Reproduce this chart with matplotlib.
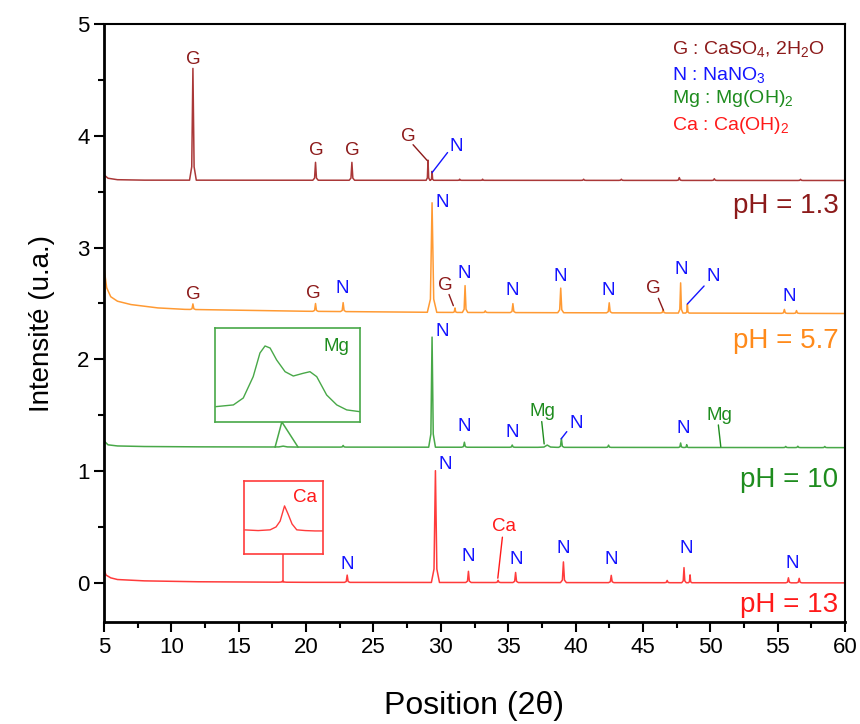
import numpy as np
import matplotlib.pyplot as plt
from matplotlib.ticker import MultipleLocator

plt.rcParams['font.family'] = ['Liberation Sans', 'DejaVu Sans']
plt.rcParams['mathtext.default'] = 'regular'

# colours
c_g = "#8C1A1A"      # gypse labels / pH 1.3 text
c_n = "#1414FF"      # NaNO3 labels
c_mg = "#1E8C1E"     # Mg(OH)2 labels / pH 10 text
c_ca = "#FF1A1A"     # Ca(OH)2 labels / pH 13 text
line_1 = "#AA3838"
line_5 = "#FF9A33"
line_10 = "#48A848"
line_13 = "#FF3B3B"
text_5 = "#FF8A1A"

# ---- pH = 1.3 : baseline knots + peaks (position, height above baseline, half width)
base1_x = [5, 5.3, 6, 8, 60]
base1_y = [3.65, 3.62, 3.607, 3.603, 3.60]
pos1 = [11.6, 20.7, 23.4, 29.05, 29.35, 31.4, 33.1, 40.6, 43.4, 47.7, 50.3, 56.7]
h1 = [1.0, 0.16, 0.16, 0.18, 0.08, 0.01, 0.01, 0.01, 0.01, 0.025, 0.015, 0.01]
w1 = [0.25, 0.2, 0.2, 0.14, 0.12, 0.15, 0.15, 0.2, 0.2, 0.2, 0.2, 0.2]

# ---- pH = 5.7
base5_x = [5, 5.2, 5.5, 6, 7, 9, 11, 20, 30, 60]
base5_y = [2.82, 2.64, 2.56, 2.52, 2.49, 2.46, 2.447, 2.43, 2.42, 2.41]
pos5 = [11.6, 20.7, 22.75, 29.35, 31.05, 31.8, 33.3, 35.35, 38.9, 42.5, 46.5,
        47.8, 48.3, 55.5, 56.4]
h5 = [0.05, 0.07, 0.08, 0.98, 0.04, 0.24, 0.015, 0.08, 0.22, 0.09, 0.03,
      0.27, 0.08, 0.035, 0.025]
w5 = [0.2, 0.2, 0.2, 0.35, 0.15, 0.2, 0.2, 0.2, 0.22, 0.2, 0.2,
      0.17, 0.13, 0.2, 0.2]

# ---- pH = 10
base10_x = [5, 5.3, 6, 8, 12, 20, 60]
base10_y = [1.27, 1.235, 1.225, 1.22, 1.217, 1.215, 1.21]
pos10 = [18.3, 22.75, 29.35, 31.75, 35.3, 37.9, 38.95, 42.45, 47.8, 48.25,
         55.6, 56.5, 58.5]
h10 = [0.008, 0.015, 0.985, 0.045, 0.02, 0.02, 0.08, 0.02, 0.04, 0.025,
       0.01, 0.012, 0.01]
w10 = [0.9, 0.2, 0.25, 0.2, 0.2, 0.7, 0.2, 0.2, 0.17, 0.13, 0.2, 0.2, 0.2]

# ---- pH = 13
base13_x = [5, 5.15, 5.5, 6, 8, 12, 20, 60]
base13_y = [0.12, 0.07, 0.045, 0.03, 0.018, 0.01, 0.005, 0.0]
pos13 = [18.27, 23.05, 29.6, 32.05, 34.25, 35.55, 39.1, 42.65, 46.8, 48.05,
         48.5, 55.8, 56.6]
h13 = [0.012, 0.065, 1.0, 0.1, 0.02, 0.09, 0.185, 0.065, 0.02, 0.135,
       0.07, 0.045, 0.04]
w13 = [0.3, 0.2, 0.3, 0.2, 0.2, 0.2, 0.22, 0.2, 0.2, 0.17, 0.13, 0.2, 0.2]

# ---- insets (zoom on the small Mg(OH)2 and Ca(OH)2 reflections)
mg_x = [15.54, 16.26, 16.67, 17.08, 17.36, 17.57, 17.78, 18.05, 18.40, 18.74,
        19.15, 19.43, 19.71, 20.12, 20.54, 20.95, 21.47]
mg_y = [0.163, 0.181, 0.255, 0.482, 0.734, 0.809, 0.787, 0.660, 0.535, 0.489,
        0.518, 0.535, 0.482, 0.287, 0.181, 0.128, 0.110]
ca_x = [17.02, 17.44, 17.82, 18.01, 18.14, 18.28, 18.39, 18.52, 18.67, 18.94,
        19.25, 19.5]
ca_y = [0.329, 0.32, 0.33, 0.37, 0.45, 0.658, 0.55, 0.41, 0.33, 0.32,
        0.315, 0.315]


def trace(bx, by, pos, h, w):
    xs, ys = list(bx), list(by)
    for p, hh, ww in zip(pos, h, w):
        b = np.interp(p, bx, by)
        xs += [p - ww, p - 0.35 * ww, p, p + 0.35 * ww, p + ww]
        ys += [np.interp(p - ww, bx, by), b + 0.12 * hh, b + hh,
               b + 0.12 * hh, np.interp(p + ww, bx, by)]
    order = np.argsort(xs, kind="stable")
    return np.array(xs)[order], np.array(ys)[order]


fig = plt.figure(figsize=(8.6, 7.24), dpi=100)
ax = fig.add_axes([104 / 860, 102 / 724, 741 / 860, 598 / 724])

for bx, by, pos, h, w, c in [
    (base1_x, base1_y, pos1, h1, w1, line_1),
    (base5_x, base5_y, pos5, h5, w5, line_5),
    (base10_x, base10_y, pos10, h10, w10, line_10),
    (base13_x, base13_y, pos13, h13, w13, line_13),
]:
    x, y = trace(bx, by, pos, h, w)
    ax.plot(x, y, color=c, lw=1.1)

ax.set_xlim(5, 60)
ax.set_ylim(-0.35, 5)
ax.xaxis.set_major_locator(MultipleLocator(5))
ax.xaxis.set_minor_locator(MultipleLocator(2.5))
ax.yaxis.set_major_locator(MultipleLocator(1))
ax.yaxis.set_minor_locator(MultipleLocator(0.5))
ax.tick_params(which="both", direction="out", top=False, right=False,
               labelsize=16, width=1.5)
ax.tick_params(which="major", length=7)
ax.tick_params(which="minor", length=4)
for s in ax.spines.values():
    s.set_linewidth(1.5)
ax.spines["left"].set_linewidth(2)
ax.spines["bottom"].set_linewidth(2)

ax.set_xlabel("Position (2θ)", fontsize=23, labelpad=24)
ax.set_ylabel("Intensité (u.a.)", fontsize=20, labelpad=16)


def lab(t, x, y, c, fs=13.5):
    ax.text(x, y, t, color=c, fontsize=fs, ha="center", va="center")


def leader(x0, y0, x1, y1, c):
    ax.annotate("", xy=(x1, y1), xytext=(x0, y0),
                arrowprops=dict(arrowstyle="-", color=c, lw=1.0,
                                shrinkA=0, shrinkB=0))


# pH 1.3 labels
lab("G", 11.6, 4.68, c_g)
lab("G", 20.74, 3.87, c_g)
lab("G", 23.4, 3.87, c_g)
lab("G", 27.57, 3.99, c_g)
leader(27.94, 3.92, 28.98, 3.78, c_g)
lab("N", 31.13, 3.90, c_n)
leader(30.5, 3.85, 29.35, 3.67, c_n)

# pH 5.7 labels
lab("G", 11.6, 2.58, c_g)
lab("G", 20.55, 2.585, c_g)
lab("N", 22.72, 2.63, c_n)
lab("N", 30.14, 3.40, c_n)
lab("G", 30.3, 2.66, c_g)
leader(30.61, 2.58, 30.93, 2.48, c_g)
lab("N", 31.73, 2.77, c_n)
lab("N", 35.33, 2.615, c_n)
lab("N", 38.9, 2.74, c_n)
lab("N", 42.44, 2.62, c_n)
lab("G", 45.78, 2.635, c_g)
leader(46.15, 2.546, 46.52, 2.44, c_g)
lab("N", 47.84, 2.80, c_n)
lab("N", 50.19, 2.74, c_n)
leader(49.54, 2.656, 48.3, 2.495, c_n)
lab("N", 55.85, 2.56, c_n)

# pH 10 labels
lab("N", 30.07, 2.25, c_n)
lab("N", 31.75, 1.40, c_n)
lab("N", 35.33, 1.345, c_n)
lab("Mg", 37.57, 1.53, c_mg)
leader(37.49, 1.443, 37.67, 1.243, c_mg)
lab("N", 40.04, 1.43, c_n)
leader(39.35, 1.353, 38.93, 1.288, c_n)
lab("N", 47.96, 1.38, c_n)
lab("Mg", 50.68, 1.50, c_mg)
leader(50.6, 1.413, 50.78, 1.219, c_mg)

# pH 13 labels
lab("N", 23.02, 0.16, c_n)
lab("N", 30.3, 1.055, c_n)
lab("N", 32.05, 0.235, c_n)
lab("Ca", 34.7, 0.50, c_ca)
leader(34.57, 0.409, 34.23, 0.042, c_ca)
lab("N", 35.59, 0.205, c_n)
lab("N", 39.1, 0.31, c_n)
lab("N", 42.64, 0.21, c_n)
lab("N", 48.18, 0.31, c_n)
lab("N", 56.12, 0.17, c_n)

# pH labels
for t, y, c in [("pH = 1.3", 3.37, c_g), ("pH = 5.7", 2.165, text_5),
                ("pH = 10", 0.92, c_mg), ("pH = 13", -0.2, c_ca)]:
    ax.text(59.5, y, t, color=c, fontsize=20, ha="right", va="center")

# phase key
for t, y, c in [("G : CaSO$_4$, 2H$_2$O", 4.73, c_g), ("N : NaNO$_3$", 4.50, c_n),
                ("Mg : Mg(OH)$_2$", 4.29, c_mg), ("Ca : Ca(OH)$_2$", 4.05, c_ca)]:
    ax.text(47.17, y, t, color=c, fontsize=14, ha="left", va="baseline")

# Mg inset
ins = ax.inset_axes([13.24, 1.44, 24.0 - 13.24, 2.28 - 1.44], transform=ax.transData)
ins.plot(mg_x, mg_y, color=line_10, lw=1.0)
ins.set_xlim(15.5, 21.5)
ins.set_ylim(0, 1)
ins.set_xticks([])
ins.set_yticks([])
for s in ins.spines.values():
    s.set_color(line_10)
    s.set_linewidth(1.2)
ins.text(0.93, 0.8, "Mg", color=c_mg, fontsize=13.5, ha="right", va="center",
         transform=ins.transAxes)
ax.plot([17.7, 18.2, 19.4], [1.215, 1.44, 1.215], color=line_10, lw=1.1)

# Ca inset
ins2 = ax.inset_axes([15.42, 0.259, 21.24 - 15.42, 0.912 - 0.259], transform=ax.transData)
ins2.plot(ca_x, ca_y, color=line_13, lw=1.0)
ins2.set_xlim(17.0, 19.5)
ins2.set_ylim(0, 1)
ins2.set_xticks([])
ins2.set_yticks([])
for s in ins2.spines.values():
    s.set_color(line_13)
    s.set_linewidth(1.2)
ins2.text(0.93, 0.77, "Ca", color=c_ca, fontsize=13.5, ha="right", va="center",
          transform=ins2.transAxes)
ax.plot([18.27, 18.27], [0.259, 0.01], color=line_13, lw=1.1)

fig.savefig("out.png", dpi=100)
